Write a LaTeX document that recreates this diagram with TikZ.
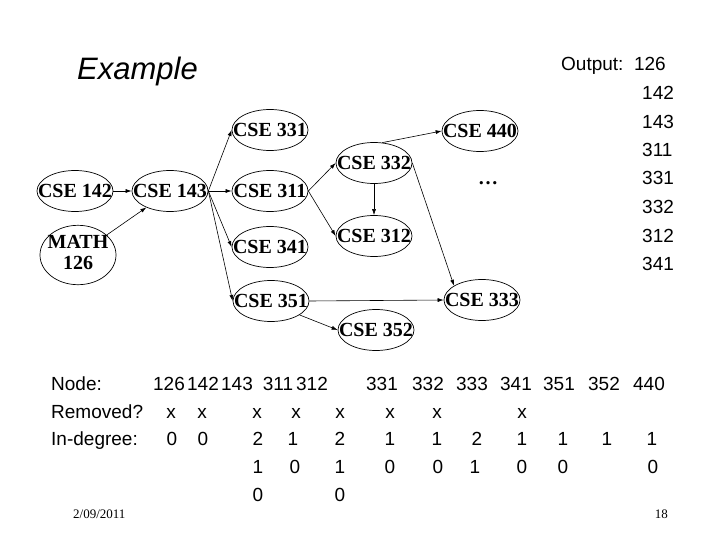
\documentclass[tikz,border=0pt]{standalone}
\usepackage{fontspec}
\setmainfont{Liberation Serif}
\newfontfamily\arialfont{Liberation Sans}
\usetikzlibrary{shapes.geometric,arrows.meta}
\newcommand{\clab}[1]{\makebox[0pt]{#1}}

\begin{document}
\begin{tikzpicture}[x=1pt,y=-1pt,>={Latex[length=6pt,width=4pt]},
	course/.style={ellipse, draw, line width=0.7pt, minimum width=76pt, minimum height=41pt, inner sep=0pt, font=\bfseries\fontsize{20}{21}\selectfont},
	dep/.style={->, line width=0.6pt},
	sf/.style={font=\arialfont\fontsize{19}{23}\selectfont, inner sep=0pt, anchor=base},
	foot/.style={font=\fontsize{13}{15}\selectfont, inner sep=0pt, anchor=base}]
\useasboundingbox (0,0) rectangle (720,540);

%----------------------------
% Title
%----------------------------
\node[sf, anchor=base west, font=\arialfont\itshape\fontsize{31}{36}\selectfont] (title) at (77,80) {Example};

%----------------------------
% Course graph
%----------------------------
\node[course] (c142) at (75,191) {\clab{CSE 142}};
\node[course] (c143) at (170,191) {\clab{CSE 143}};
\node[course] (m126) at (78,255) {\clab{\begin{tabular}{@{}c@{}}MATH\\126\end{tabular}}};
\node[course] (c331) at (270,130) {\clab{CSE 331}};
\node[course] (c311) at (270,191) {\clab{CSE 311}};
\node[course] (c341) at (270,247) {\clab{CSE 341}};
\node[course] (c351) at (271,301) {\clab{CSE 351}};
\node[course] (c332) at (374,163) {\clab{CSE 332}};
\node[course] (c312) at (374,236) {\clab{CSE 312}};
\node[course] (c352) at (376,330) {\clab{CSE 352}};
\node[course] (c440) at (480,131) {\clab{CSE 440}};
\node[course] (c333) at (482,300) {\clab{CSE 333}};
\node[font=\bfseries\fontsize{20}{21}\selectfont, inner sep=0pt] (dots) at (488,183) {\dots};

% prerequisites
\draw[dep] (c142) -- (c143);
\draw[dep] (m126) -- (c143);
\draw[dep] (c143.east) -- (c331.west);
\draw[dep] (c143.east) -- (c311.west);
\draw[dep] (c143.east) -- (c341.west);
\draw[dep] (c143.east) -- (c351.west);
\draw[dep] (c311.east) -- (c332.west);
\draw[dep] (c311.east) -- (c312.west);
\draw[dep] (c332) -- (c312);
\draw[dep] (c332.68) -- (c440.west);
\draw[dep] (c332.east) -- (c333.153);
\draw[dep] (c351.east) -- (c333.west);
\draw[dep] (c351.-26) -- (c352.west);

%----------------------------
% Output order
%----------------------------
\node[sf, anchor=base west] (out) at (561,71) {Output:~~126};
\foreach \v/\y [count=\i] in {142/100,143/129,311/157,331/185,332/214,312/242,341/270}
	\node[sf, anchor=base west] (out\i) at (642,\y) {\v};

%----------------------------
% Table of in-degrees
%----------------------------
\node[sf, anchor=base west] (lnode) at (51,390) {Node:};
\node[sf, anchor=base west] (lrem) at (51,418) {Removed?};
\node[sf, anchor=base west] (ldeg) at (51,445) {In-degree:};
\foreach \v/\x in {126/169,142/203,143/237,311/278,312/312,331/382,332/428,333/472,341/516,351/559,352/604,440/649}
	\node[sf] (h\v) at (\x,390) {\v};
\foreach \x [count=\i] in {171,202,257,296,340,390,437,522}
	\node[sf] (x\i) at (\x,418) {x};
\foreach \v/\x [count=\i] in {0/172,0/203,2/258,1/293,2/340,1/390,1/437,2/477,1/522,1/563,1/607,1/652}
	\node[sf] (d\i) at (\x,445) {\v};
\foreach \v/\x [count=\i] in {1/258,0/295,1/340,0/390,0/438,1/475,0/522,0/563,0/653}
	\node[sf] (e\i) at (\x,473) {\v};
\foreach \v/\x [count=\i] in {0/258,0/340}
	\node[sf] (f\i) at (\x,501) {\v};

% footer
\node[foot, anchor=base west] (date) at (73,518) {2/09/2011};
\node[foot, anchor=base east] (page) at (668,518) {18};
\end{tikzpicture}
\end{document}
